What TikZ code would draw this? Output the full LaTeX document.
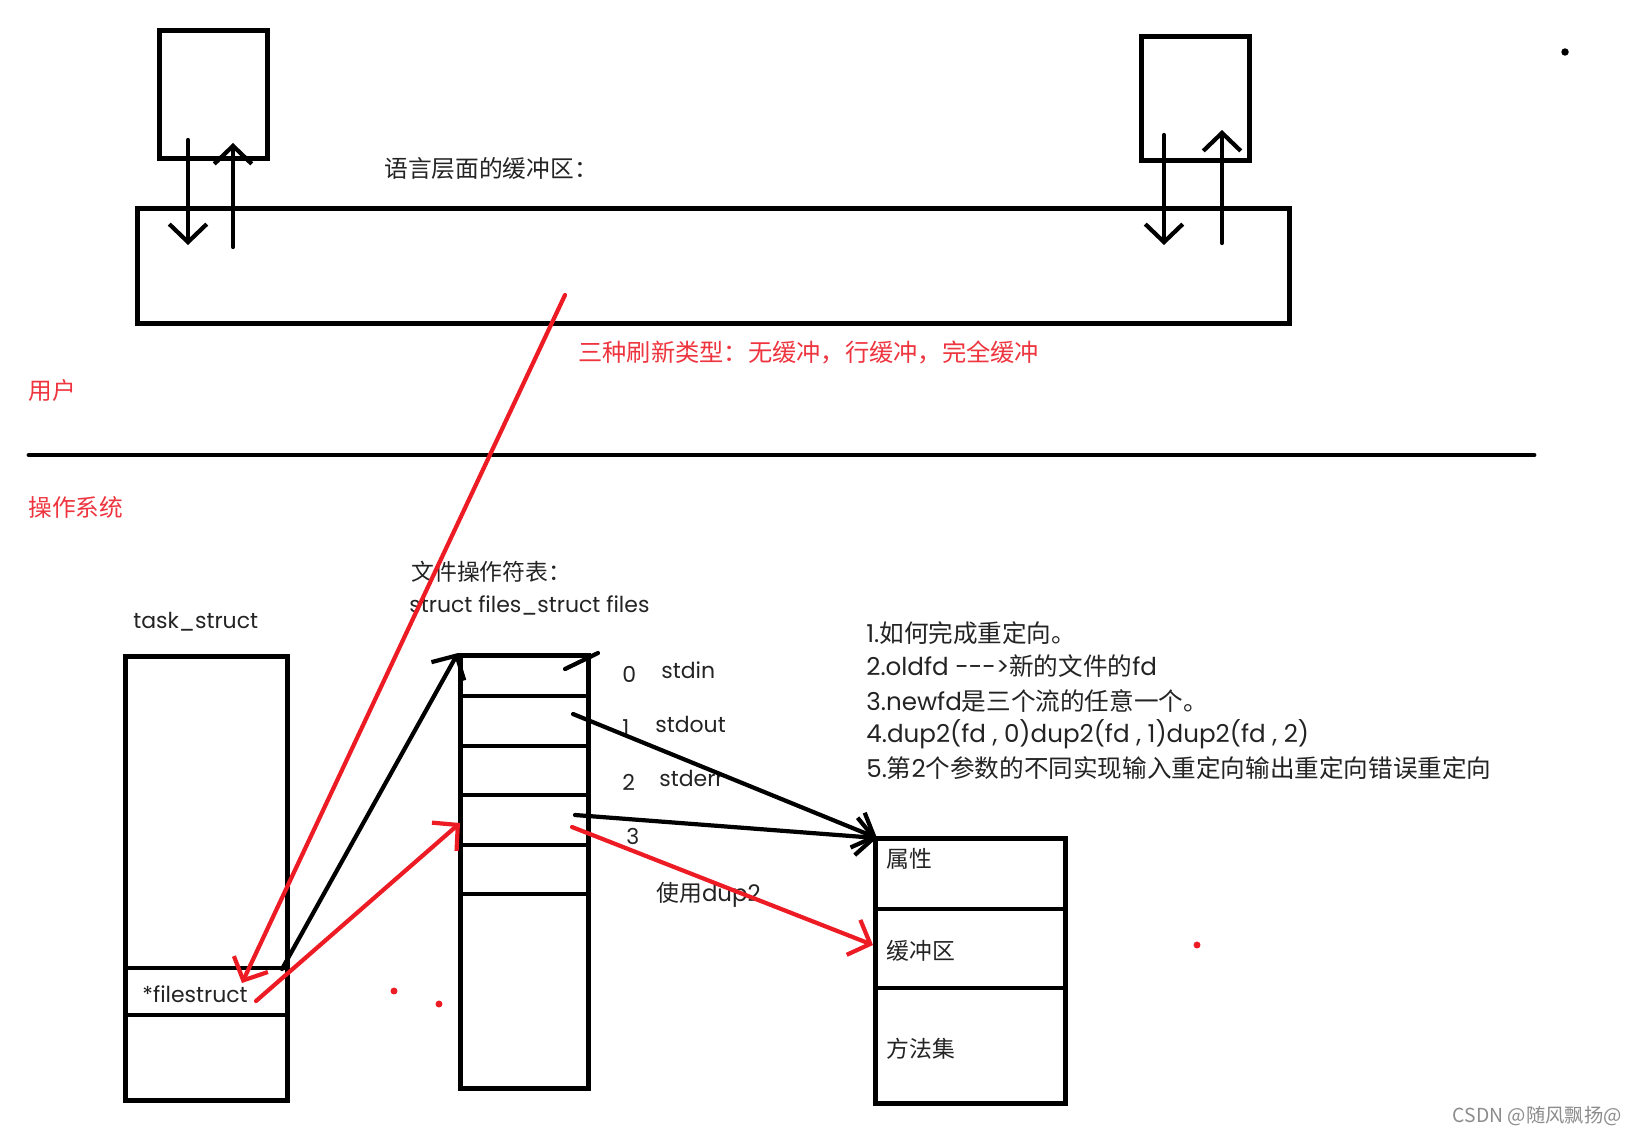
\documentclass[tikz,border=0pt]{standalone}
\usepackage{fontspec}
\setmainfont{Noto Sans CJK SC}
\newfontfamily\latfont{Poppins}
\usetikzlibrary{arrows.meta}
\definecolor{myred}{RGB}{237,28,36}
\definecolor{redtext}{RGB}{238,52,62}
\definecolor{mytext}{RGB}{35,35,35}

\tikzset{
    box/.style={draw, line width=2.8pt, inner sep=0pt, anchor=north west},
    pen/.style={line width=2.4pt, line cap=round},
    redpen/.style={myred, line width=2.4pt, line cap=round},
    tip/.style={-{Straight Barb[length=0.36cm, width=0.75cm]}},
    lbl/.style={anchor=west, inner sep=0pt, text=mytext, font=\fontsize{13}{15}\selectfont},
    latlbl/.style={lbl, font=\fontsize{12.5}{15}\latfont},
    note/.style={lbl, font=\fontsize{14}{16}\selectfont},
}

\begin{document}
\begin{tikzpicture}[x=0.02cm, y=-0.02cm]
\useasboundingbox (0,0) rectangle (1638,1135);

% user space
\begin{scope}
    % Defining nodes.
    \node[box, minimum width=2.16cm, minimum height=2.56cm] (app1) at (157,28) {};
    \node[box, minimum width=2.16cm, minimum height=2.48cm] (app2) at (1139,34) {};
    \node[box, minimum width=23.04cm, minimum height=2.30cm] (buf) at (135,206) {};
    \node[lbl, font=\fontsize{13.5}{15}\selectfont] (buftitle) at (384,169) {语言层面的缓冲区：};
    \node[lbl, text=redtext, font=\fontsize{13.8}{15}\selectfont] (flush) at (578,352) {三种刷新类型：无缓冲，行缓冲，完全缓冲};
    \node[lbl, text=redtext, font=\fontsize{13.5}{15}\selectfont] (user) at (28,390) {用户};
    \node[lbl, text=redtext, font=\fontsize{13.5}{15}\selectfont] (kernel) at (28,507) {操作系统};
    \coordinate (sepL) at (29,455);
    \coordinate (sepR) at (1534,455);
    \draw[line width=2.8pt, line cap=round] (sepL) -- (sepR);
    % in and out of the buffer
    \coordinate (aDownS) at (188,140);
    \coordinate (aDownE) at (188,245);
    \coordinate (aUpS) at (233,247);
    \coordinate (aUpE) at (233,143);
    \coordinate (bDownS) at (1164,135);
    \coordinate (bDownE) at (1164,245);
    \coordinate (bUpS) at (1222,243);
    \coordinate (bUpE) at (1222,130);
    \draw[pen, tip] (aDownS) -- (aDownE);
    \draw[pen, tip] (aUpS) -- (aUpE);
    \draw[pen, tip] (bDownS) -- (bDownE);
    \draw[pen, tip] (bUpS) -- (bUpE);
    \node[circle, fill=black, inner sep=1.5pt] (dotA) at (1565,52) {};
\end{scope}

% kernel
\begin{scope}
    % Defining nodes.
    \node[latlbl] (tasktitle) at (133,622) {task\_struct};
    \node[box, minimum width=3.24cm, minimum height=8.88cm] (task) at (123,654) {};
    \draw[line width=2.8pt] (123,968) -- (285,968);
    \draw[line width=2.8pt] (123,1015) -- (285,1015);
    \node[latlbl] (fstruct) at (142,994) {*filestruct};

    \node[lbl] (fdtitle) at (411,572) {文件操作符表：};
    \node[latlbl] (fdtype) at (409,605) {struct files\_struct files};
    \node[box, minimum width=2.56cm, minimum height=8.66cm] (files) at (458,653) {};
    \foreach \y in {696,746,795,845,894}
        \draw[line width=2.8pt] (458,\y) -- (590,\y);
    \foreach \n/\y/\name/\x in {0/674/stdin/661, 1/728/stdout/655, 2/782/stderr/659}
        \node[latlbl] (fd\n) at (622,\y) {\n} node[latlbl] (fdname\n) at (\x,\y-4) {\name};
    \node[latlbl] (fd3) at (626,836) {3};
    \node[lbl] (usedup) at (656,895) {使用{\latfont dup2}};

    \node[box, minimum width=3.80cm, minimum height=5.30cm] (file) at (873,836) {};
    \draw[line width=2.8pt] (873,909) -- (1063,909);
    \draw[line width=2.8pt] (873,988) -- (1063,988);
    \node[lbl] (attr) at (886,859) {属性};
    \node[lbl] (fbuf) at (886,951) {缓冲区};
    \node[lbl] (ops) at (886,1049) {方法集};

    \node[note] (n1) at (866,633) {{\latfont 1.}如何完成重定向。};
    \node[note] (n2) at (866,666) {{\latfont 2.oldfd -{}-{}-{}>}新的文件的{\latfont fd}};
    \node[note] (n3) at (866,701) {{\latfont 3.newfd}是三个流的任意一个。};
    \node[note] (n4) at (866,734) {{\latfont 4.dup2(fd , 0)dup2(fd , 1)dup2(fd , 2)}};
    \node[note] (n5) at (866,768) {{\latfont 5.}第{\latfont 2}个参数的不同实现输入重定向输出重定向错误重定向};

    % pointers
    \coordinate (fsBlack) at (282,969);
    \coordinate (fsRed) at (256,1001);
    \coordinate (fsIn) at (242,983);
    \coordinate (bufOut) at (565,295);
    \coordinate (row3In) at (460,823);
    \coordinate (row1Out) at (573,714);
    \coordinate (row3Out) at (575,815);
    \coordinate (row3Red) at (572,827);
    \coordinate (attrIn) at (877,838);
    \coordinate (fbufIn) at (873,945);
    \coordinate (tickA) at (565,669);
    \coordinate (tickB) at (598,653);
    \draw[pen, tip] (fsBlack) -- (files.north west);
    \draw[pen, tip] (row1Out) -- (attrIn);
    \draw[pen, tip] (row3Out) -- (attrIn);
    \draw[pen] (tickA) -- (tickB);
    \draw[redpen, tip] (bufOut) -- (fsIn);
    \draw[redpen, tip] (fsRed) -- (row3In);
    \draw[redpen, tip] (row3Red) -- (fbufIn);
    \foreach \p/\x/\y in {1/394/991, 2/439/1004, 3/1197/945}
        \node[circle, fill=myred, inner sep=1.4pt] (reddot\p) at (\x,\y) {};
\end{scope}

\node[anchor=east, inner sep=0pt, text=black!45, font=\fontsize{11}{13}\selectfont] (mark) at (1622,1116) {CSDN @随风飘扬@};

\end{tikzpicture}
\end{document}
